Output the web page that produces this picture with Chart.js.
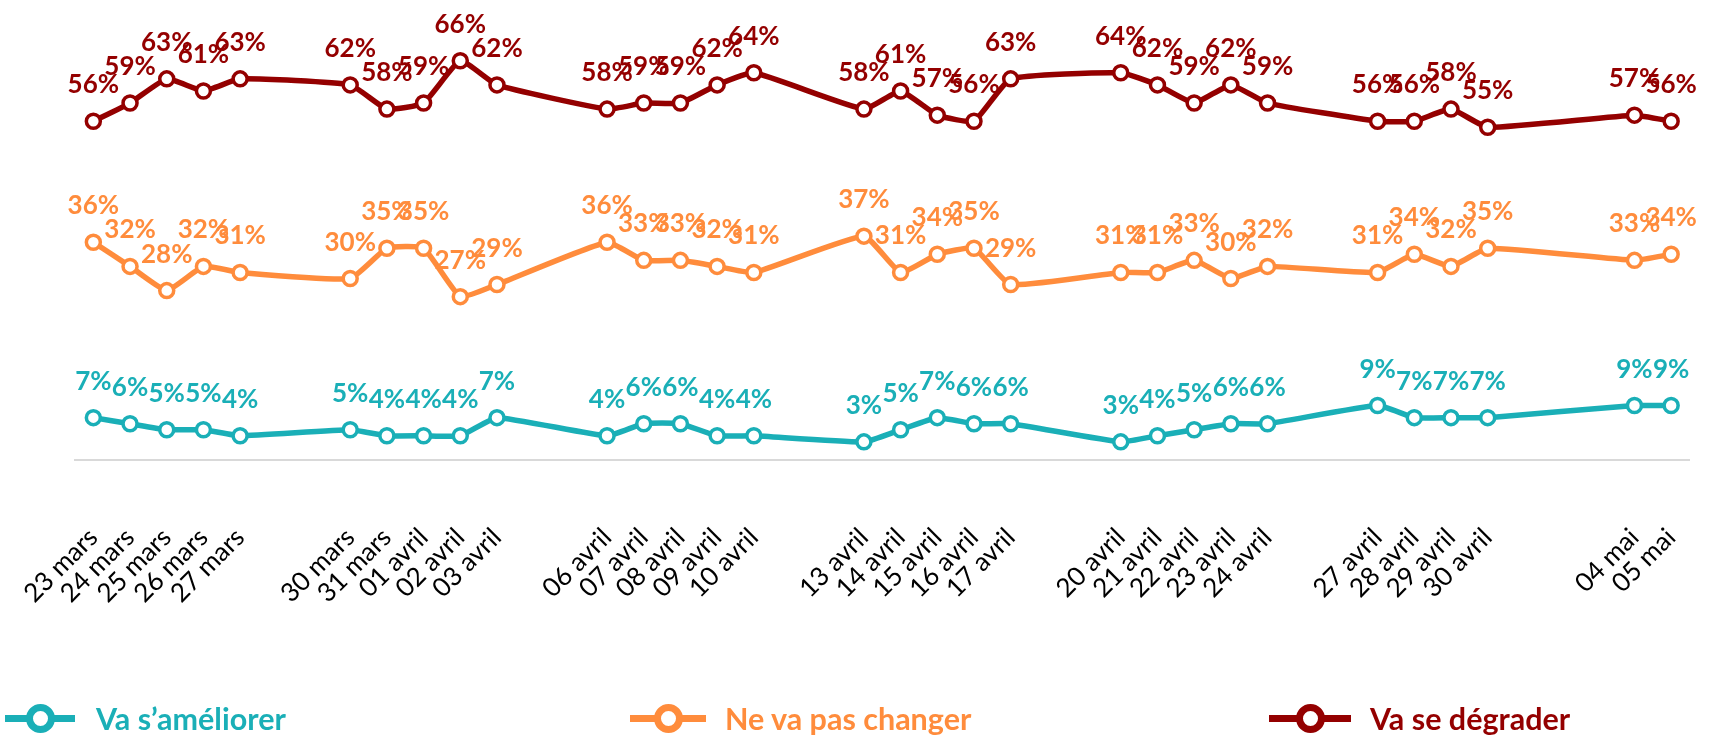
<!DOCTYPE html>
<html>
<head>
<meta charset="utf-8">
<script src="https://cdn.jsdelivr.net/npm/chart.js@4.4.1/dist/chart.umd.min.js"></script>
<style>
  html, body { margin: 0; padding: 0; background: #fff; overflow: hidden; }
  #wrap { position: relative; width: 1709px; height: 736px; }
  .legend-item { position: absolute; top: 701px; height: 36px; font-family: Lato, sans-serif; font-weight: bold; font-size: 30.5px; }
  .legend-item .mark { position: absolute; top: 14px; height: 7px; }
  .legend-item .dot { position: absolute; top: 3px; width: 15px; height: 15px; border-radius: 50%; background: #fff; border: 7px solid; }
  .legend-item .txt { position: absolute; top: -1px; white-space: nowrap; line-height: 36px; }
</style>
</head>
<body>
<div id="wrap">
  <canvas id="chart"></canvas>
</div>
<script>
const dates = ["23 mars", "24 mars", "25 mars", "26 mars", "27 mars", "30 mars", "31 mars",
  "01 avril", "02 avril", "03 avril", "06 avril", "07 avril", "08 avril", "09 avril", "10 avril",
  "13 avril", "14 avril", "15 avril", "16 avril", "17 avril", "20 avril", "21 avril", "22 avril",
  "23 avril", "24 avril", "27 avril", "28 avril", "29 avril", "30 avril", "04 mai", "05 mai"];
// days since 23 mars
const dayOffset = [0, 1, 2, 3, 4, 7, 8, 9, 10, 11, 14, 15, 16, 17, 18, 21, 22, 23, 24, 25,
  28, 29, 30, 31, 32, 35, 36, 37, 38, 42, 43];

const ameliorer = [7, 6, 5, 5, 4, 5, 4, 4, 4, 7, 4, 6, 6, 4, 4, 3, 5, 7, 6, 6, 3, 4, 5, 6, 6, 9, 7, 7, 7, 9, 9];
const pasChanger = [36, 32, 28, 32, 31, 30, 35, 35, 27, 29, 36, 33, 33, 32, 31, 37, 31, 34, 35, 29, 31, 31, 33, 30, 32, 31, 34, 32, 35, 33, 34];
const degrader = [56, 59, 63, 61, 63, 62, 58, 59, 66, 62, 58, 59, 59, 62, 64, 58, 61, 57, 56, 63, 64, 62, 59, 62, 59, 56, 56, 58, 55, 57, 56];

const seriesNames = ["Va s\u2019améliorer", "Ne va pas changer", "Va se dégrader"];
const colors = ["#1AAFB7", "#FF8C3C", "#940000"];

function points(values) {
  return values.map((v, i) => ({ x: dayOffset[i], y: v }));
}

function lineDataset(label, values, color) {
  return {
    label: label,
    data: points(values),
    borderColor: color,
    borderWidth: 5.5,
    tension: 0.14,
    pointRadius: 7,
    pointHoverRadius: 7,
    pointBorderWidth: 3.5,
    pointBorderColor: color,
    pointBackgroundColor: "#fff",
    clip: false
  };
}

// value labels above each point
const valueLabels = {
  id: "valueLabels",
  afterDatasetsDraw(chart) {
    const ctx = chart.ctx;
    ctx.save();
    ctx.font = "bold 26px Lato";
    ctx.textAlign = "center";
    ctx.textBaseline = "alphabetic";
    chart.data.datasets.forEach((ds, di) => {
      const meta = chart.getDatasetMeta(di);
      ctx.fillStyle = ds.borderColor;
      meta.data.forEach((pt, i) => {
        ctx.fillText(ds.data[i].y + "%", pt.x, pt.y - 28);
      });
    });
    ctx.restore();
  }
};

new Chart(document.getElementById("chart"), {
  type: "line",
  data: {
    datasets: [
      lineDataset(seriesNames[2], degrader, colors[2]),
      lineDataset(seriesNames[1], pasChanger, colors[1]),
      lineDataset(seriesNames[0], ameliorer, colors[0])
    ]
  },
  options: {
    responsive: true,
    maintainAspectRatio: false,
    animation: false,
    events: [],
    layout: { padding: { left: 75, right: 19.5, top: 36.5, bottom: 0 } },
    plugins: { legend: { display: false }, tooltip: { enabled: false } },
    scales: {
      x: {
        type: "linear",
        min: -0.5,
        max: 43.5,
        afterBuildTicks: (scale) => {
          scale.ticks = dayOffset.map((d) => ({ value: d }));
        },
        afterFit: (scale) => {
          scale.height = 736 - 460;
          scale.paddingLeft = 0;
          scale.paddingRight = 0;
        },
        grid: { display: false, drawTicks: false },
        border: { display: true, color: "#D9D9D9", width: 2 },
        ticks: {
          autoSkip: false,
          minRotation: 45,
          maxRotation: 45,
          padding: 62,
          color: "#000",
          font: { family: "Lato", size: 26 },
          callback: (v, i) => dates[i]
        }
      },
      y: { display: false, min: 0, max: 70 }
    }
  },
  plugins: [valueLabels]
});

// legend
const legendPos = [
  { line: 5, dot: 40, text: 96 },
  { line: 630, dot: 668, text: 725 },
  { line: 1269, dot: 1310, text: 1370 }
];
const wrap = document.getElementById("wrap");
seriesNames.forEach((name, i) => {
  const p = legendPos[i];
  const item = document.createElement("div");
  item.className = "legend-item";
  item.style.left = "0px";
  item.innerHTML =
    '<div class="mark" style="left:' + p.line + 'px;width:' + ((p.dot - p.line) * 2) + 'px;background:' + colors[i] + '"></div>' +
    '<div class="dot" style="left:' + (p.dot - 14.5) + 'px;border-color:' + colors[i] + '"></div>' +
    '<div class="txt" style="left:' + p.text + 'px;color:' + colors[i] + '">' + name + '</div>';
  wrap.appendChild(item);
});
</script>
</body>
</html>
